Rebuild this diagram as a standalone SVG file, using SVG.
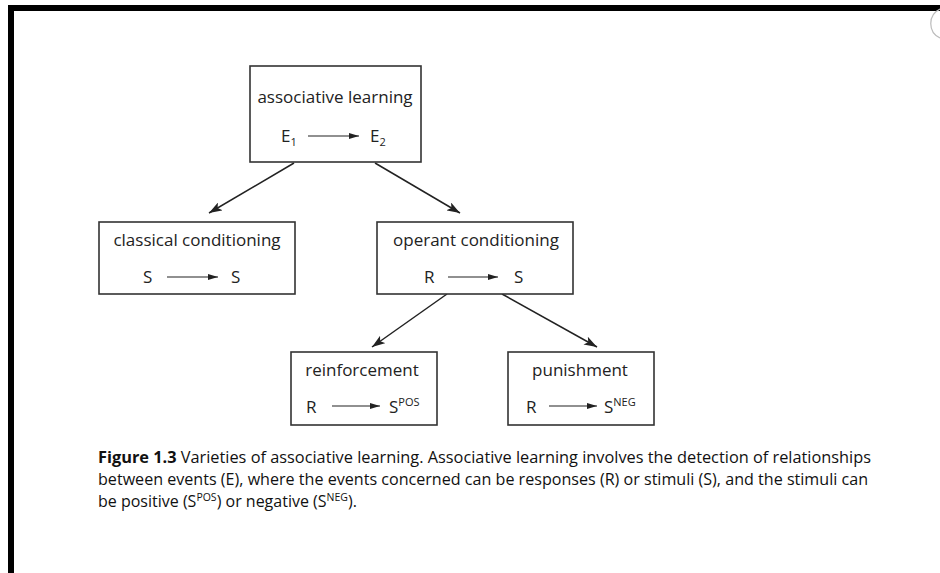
<svg xmlns="http://www.w3.org/2000/svg" width="940" height="573" viewBox="0 0 940 573">
<defs>
<style>
.box{fill:#fff;stroke:#333;stroke-width:1.6}
.t{font-family:"Open Sans","Liberation Sans",sans-serif;font-size:17px;fill:#222}
.c{text-anchor:middle}
.sm{font-size:11px}
.con{stroke:#222;stroke-width:1.5;fill:none}
.inner{stroke:#222;stroke-width:1.1;fill:none}
.cap{font-family:"Open Sans","Liberation Sans",sans-serif;font-size:16px;fill:#111}
</style>
<marker id="ah" viewBox="0 0 13 9" refX="13" refY="4.5" markerWidth="13" markerHeight="9" markerUnits="userSpaceOnUse" orient="auto">
<path d="M0,0 L13,4.5 L0,9 L3,4.5 Z" fill="#222"/>
</marker>
<marker id="ahs" viewBox="0 0 10 6" refX="10" refY="3" markerWidth="10" markerHeight="6" markerUnits="userSpaceOnUse" orient="auto">
<path d="M0,0 L10,3 L0,6 Z" fill="#222"/>
</marker>
</defs>
<rect x="0" y="0" width="940" height="573" fill="#fff"/>
<rect x="8" y="5" width="932" height="6" fill="#000"/>
<rect x="8" y="5" width="6" height="568" fill="#000"/>
<path d="M940,9 A16,16 0 0 0 940,38" fill="none" stroke="#bbb" stroke-width="1.2"/>

<g id="connectors">
<line class="con" x1="294" y1="163" x2="209" y2="213" marker-end="url(#ah)"/>
<line class="con" x1="375" y1="163" x2="460" y2="213" marker-end="url(#ah)"/>
<line class="con" x1="447" y1="294" x2="372" y2="347" marker-end="url(#ah)"/>
<line class="con" x1="502" y1="294" x2="597" y2="347" marker-end="url(#ah)"/>
</g>

<g id="associative">
<rect class="box" x="250" y="66" width="171" height="96"/>
<text class="t c" x="335" y="103">associative learning</text>
<text class="t" x="281" y="142">E<tspan class="sm" dy="4">1</tspan></text>
<line class="inner" x1="308" y1="136" x2="359" y2="136" marker-end="url(#ahs)"/>
<text class="t" x="370" y="142">E<tspan class="sm" dy="4">2</tspan></text>
</g>

<g id="classical">
<rect class="box" x="99" y="222" width="196" height="72"/>
<text class="t c" x="197" y="246">classical conditioning</text>
<text class="t" x="143" y="283">S</text>
<line class="inner" x1="167" y1="277" x2="218" y2="277" marker-end="url(#ahs)"/>
<text class="t" x="231" y="283">S</text>
</g>

<g id="operant">
<rect class="box" x="377" y="222" width="196" height="72"/>
<text class="t c" x="476" y="246">operant conditioning</text>
<text class="t" x="424" y="283">R</text>
<line class="inner" x1="448" y1="277" x2="498" y2="277" marker-end="url(#ahs)"/>
<text class="t" x="514" y="283">S</text>
</g>

<g id="reinforcement">
<rect class="box" x="291" y="352" width="146" height="73"/>
<text class="t c" x="362" y="376">reinforcement</text>
<text class="t" x="306" y="413">R</text>
<line class="inner" x1="332" y1="406" x2="380" y2="406" marker-end="url(#ahs)"/>
<text class="t" x="389" y="413">S<tspan class="sm" dy="-7">POS</tspan></text>
</g>

<g id="punishment">
<rect class="box" x="508" y="352" width="146" height="73"/>
<text class="t c" x="580" y="376">punishment</text>
<text class="t" x="526" y="413">R</text>
<line class="inner" x1="549" y1="406" x2="597" y2="406" marker-end="url(#ahs)"/>
<text class="t" x="604" y="413">S<tspan class="sm" dy="-7">NEG</tspan></text>
</g>

<g id="caption">
<text class="cap" x="98" y="463" textLength="773" lengthAdjust="spacingAndGlyphs"><tspan font-weight="bold">Figure 1.3</tspan> Varieties of associative learning. Associative learning involves the detection of relationships</text>
<text class="cap" x="98" y="485" textLength="770" lengthAdjust="spacingAndGlyphs">between events (E), where the events concerned can be responses (R) or stimuli (S), and the stimuli can</text>
<text class="cap" x="98" y="507">be positive (S<tspan font-size="10.5" dy="-6">POS</tspan><tspan dy="6">) or negative (S</tspan><tspan font-size="10.5" dy="-6">NEG</tspan><tspan dy="6">).</tspan></text>
</g>
</svg>
